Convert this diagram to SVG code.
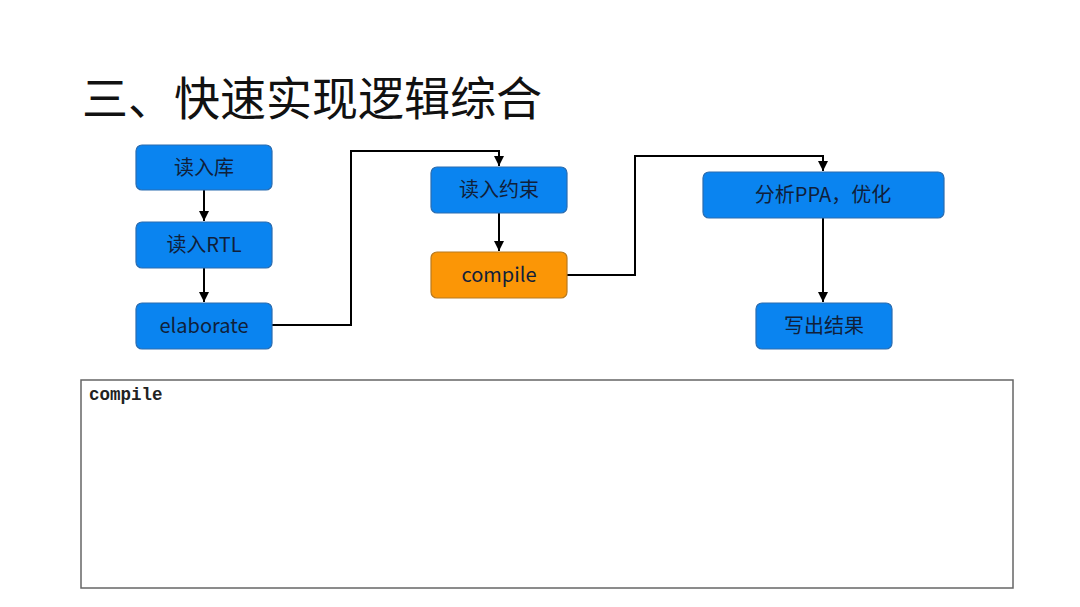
<svg xmlns="http://www.w3.org/2000/svg" width="1080" height="607" viewBox="0 0 1080 607">
<defs>
<style>
.box{fill:#0a84f0;stroke:#2a6cb0;stroke-width:1.2}
.obox{fill:#fb9606;stroke:#b87a20;stroke-width:1.2}
.lbl{font-family:"Noto Sans CJK SC","Open Sans",sans-serif;font-size:20px;fill:#10203a;text-anchor:middle}
.conn{fill:none;stroke:#000;stroke-width:2}
</style>
<marker id="ah" viewBox="0 0 10 10" refX="10" refY="5" markerWidth="5" markerHeight="5" orient="auto" markerUnits="strokeWidth">
<path d="M0,0 L10,5 L0,10 z" fill="#000"/>
</marker>
</defs>
<rect width="1080" height="607" fill="#fff"/>
<text x="82" y="115" font-family="'Noto Sans CJK SC',sans-serif" font-size="46" fill="#111">三、快速实现逻辑综合</text>
<g id="connectors">
<path class="conn" d="M204,190 L204,221" marker-end="url(#ah)"/>
<path class="conn" d="M204,268 L204,302" marker-end="url(#ah)"/>
<path class="conn" d="M272,325 L351,325 L351,151 L499,151 L499,166" marker-end="url(#ah)"/>
<path class="conn" d="M499,213 L499,251" marker-end="url(#ah)"/>
<path class="conn" d="M567,275 L635,275 L635,156 L823,156 L823,171" marker-end="url(#ah)"/>
<path class="conn" d="M823,218 L823,302" marker-end="url(#ah)"/>
</g>
<g id="n1"><rect class="box" x="136" y="145" width="136" height="45" rx="6"/><text class="lbl" x="204" y="175">读入库</text></g>
<g id="n2"><rect class="box" x="136" y="222" width="136" height="46" rx="6"/><text class="lbl" x="204" y="252">读入RTL</text></g>
<g id="n3"><rect class="box" x="136" y="303" width="136" height="46" rx="6"/><text class="lbl" x="204" y="333">elaborate</text></g>
<g id="n4"><rect class="box" x="431" y="167" width="136" height="46" rx="6"/><text class="lbl" x="499" y="197">读入约束</text></g>
<g id="n5"><rect class="obox" x="431" y="252" width="136" height="46" rx="6"/><text class="lbl" x="499" y="282">compile</text></g>
<g id="n6"><rect class="box" x="703" y="172" width="241" height="46" rx="6"/><text class="lbl" x="823" y="202">分析PPA，优化</text></g>
<g id="n7"><rect class="box" x="756" y="303" width="136" height="46" rx="6"/><text class="lbl" x="824" y="333">写出结果</text></g>
<g id="codebox">
<rect x="81" y="380" width="932" height="208" fill="#fff" stroke="#666" stroke-width="1.5"/>
<text x="89" y="400" font-family="'Liberation Mono',monospace" font-size="17.5" font-weight="bold" fill="#222">compile</text>
</g>
</svg>
